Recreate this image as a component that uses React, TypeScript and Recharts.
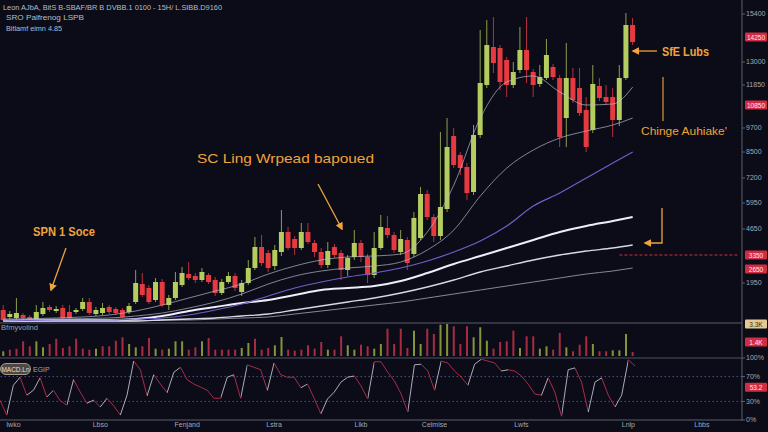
import React from 'react'
import { ComposedChart, BarChart, LineChart, Bar, Line, XAxis, YAxis, ReferenceLine, Cell } from 'recharts'

// candles
const OPEN = [
  600, 250, 200, 350, 250, 150, 400, 750, 550, 700,
  500, 500, 650, 1000, 400, 450, 750, 650, 600, 500,
  1000, 1900, 1700, 1100, 2000, 850, 1200, 1850, 2400, 2300,
  2100, 2350, 2100, 1450, 2000, 2300, 1500, 1950, 2700, 3750,
  3450, 2800, 3500, 4500, 4150, 3700, 4500, 3950, 3500, 2850,
  3750, 3450, 2600, 3250, 3950, 3250, 2350, 3700, 4700, 4350,
  3500, 4100, 3400, 4200, 6400, 5250, 4300, 5650, 9300, 8350,
  7750, 6500, 9350, 11850, 13750, 13700, 13100, 11850, 12600, 13600,
  12500, 11900, 12200, 12750, 12200, 10200, 12200, 11700, 10600, 9600,
  11800, 11250, 11250, 10100, 12200, 14850,
]
const HIGH = [
  850, 550, 1200, 450, 350, 850, 1000, 850, 800, 850,
  850, 700, 1200, 1200, 750, 950, 850, 750, 700, 950,
  2600, 2450, 1850, 2200, 2150, 1350, 2500, 2750, 3000, 2450,
  2700, 2450, 2250, 2150, 2500, 2450, 2100, 3100, 4250, 4350,
  3600, 3850, 5600, 4750, 4300, 4950, 4950, 4100, 3700, 4000,
  3900, 3600, 3350, 4600, 4100, 3400, 4500, 5350, 5300, 4500,
  4600, 4250, 5500, 6750, 6600, 5400, 9500, 10200, 9700, 8500,
  7950, 9850, 14600, 15100, 15250, 13850, 13250, 13000, 14750, 15250,
  12650, 12850, 14150, 12900, 12350, 13950, 12700, 12700, 11250, 12850,
  12200, 11850, 11700, 12850, 15450, 15200,
]
const LOW = [
  50, 150, 150, 100, 100, 100, 300, 500, 450, 150,
  150, 400, 550, 350, 300, 350, 400, 350, 200, 400,
  900, 1250, 900, 1000, 750, 600, 1100, 1750, 2100, 1950,
  2000, 1900, 1300, 1350, 1900, 1550, 1300, 1850, 2600, 2800,
  2500, 2600, 3300, 3600, 3350, 3600, 3900, 3250, 2700, 2700,
  3200, 2100, 2300, 3100, 3000, 1950, 2200, 3600, 4200, 3450,
  3350, 2600, 3250, 4100, 5100, 4000, 4100, 5500, 7700, 7350,
  6100, 6350, 9200, 11700, 12450, 11600, 11250, 11700, 12450, 11950,
  11250, 11750, 12100, 12100, 8750, 8750, 10950, 10300, 8500, 9450,
  11050, 10850, 9250, 9800, 12100, 13850,
]
const CLOSE = [
  100, 400, 450, 200, 150, 500, 700, 600, 650, 200,
  200, 600, 1000, 450, 600, 700, 500, 450, 250, 800,
  1950, 1350, 1000, 2000, 850, 1200, 2000, 2450, 2200, 2100,
  2500, 2000, 1450, 2000, 2300, 1700, 1950, 2700, 3750, 2950,
  2700, 3600, 4500, 3700, 3700, 4500, 4000, 3500, 2850, 3550,
  3350, 2600, 3200, 3950, 3250, 2350, 3700, 4750, 4350, 3600,
  4150, 2950, 5200, 6400, 5250, 4300, 5750, 8750, 7850, 7700,
  6450, 9350, 11950, 13850, 12950, 12000, 11850, 12500, 13600, 12600,
  11850, 12250, 13350, 12250, 9250, 12200, 11100, 10450, 8750, 11900,
  11200, 11000, 10100, 12200, 14850, 14000,
]

const VOLUME = [
  470, 630, 730, 1470, 970, 1470, 870, 1200, 1730, 800,
  970, 1730, 730, 630, 730, 970, 970, 1530, 1870, 1200,
  870, 970, 1800, 730, 630, 730, 1470, 1470, 630, 870,
  1470, 1800, 630, 630, 630, 630, 800, 1300, 1730, 630,
  800, 1070, 1900, 630, 530, 630, 1070, 730, 1400, 630,
  630, 1970, 1070, 630, 1130, 970, 730, 1200, 2730, 1200,
  2730, 800, 2530, 1200, 2730, 2200, 3130, 3200, 2970, 1200,
  2970, 1870, 2870, 1530, 730, 1400, 1470, 2530, 800, 1970,
  1970, 730, 970, 630, 2300, 870, 470, 1130, 1970, 1200,
  470, 470, 570, 570, 2200, 400,
]
const VOL_UP = [
  1, 0, 0, 0, 0, 1, 1, 0, 0, 0,
  0, 0, 0, 0, 1, 0, 0, 0, 0, 1,
  1, 0, 0, 1, 0, 1, 1, 1, 0, 0,
  1, 0, 0, 0, 0, 0, 1, 1, 0, 0,
  0, 1, 1, 0, 0, 0, 0, 0, 0, 1,
  0, 0, 1, 1, 0, 0, 1, 1, 0, 0,
  0, 0, 1, 1, 0, 0, 1, 1, 0, 0,
  0, 1, 1, 1, 0, 0, 0, 0, 1, 0,
  0, 1, 1, 0, 0, 1, 0, 0, 0, 1,
  0, 0, 1, 1, 1, 0,
]

const OSC = [
  32, 8, 56, 69, 40, 48, 68, 37, 48, 31,
  24, 65, 45, 27, 32, 21, 35, 23, 8, 40,
  95, 81, 39, 73, 58, 44, 77, 85, 65, 58,
  53, 48, 35, 35, 69, 73, 35, 89, 85, 81,
  48, 92, 73, 69, 69, 52, 58, 35, 10, 34,
  45, 61, 69, 71, 55, 34, 94, 94, 77, 63,
  42, 13, 89, 90, 79, 48, 95, 92, 79, 69,
  56, 90, 98, 95, 92, 79, 81, 79, 71, 58,
  42, 40, 68, 45, 6, 81, 84, 61, 13, 61,
  68, 40, 21, 40, 97, 87,
]

// moving averages, read at these candle positions
const MA_AT = [0, 8, 16, 20, 24, 28, 32, 36, 40, 44, 48, 52, 56, 60, 64, 68, 72, 76, 80, 84, 88, 92, 95]
const MA1 = [150, 200, 350, 550, 850, 1200, 1550, 1900, 2400, 2800, 3100, 3250, 3300, 3400, 4500, 6850, 10200, 12000, 12300, 11500, 10850, 10900, 11750]
const MA2 = [100, 150, 200, 300, 450, 700, 1000, 1400, 1900, 2300, 2550, 2700, 2800, 3000, 3600, 4600, 6300, 7700, 8600, 9200, 9550, 9850, 10200]
const MA3 = [50, 100, 100, 150, 200, 350, 600, 900, 1300, 1700, 2000, 2250, 2450, 2700, 3050, 3500, 4050, 4800, 5800, 6450, 7200, 7950, 8500]
const MA4 = [50, 100, 100, 150, 300, 550, 750, 950, 1100, 1350, 1600, 1700, 1800, 2050, 2450, 2900, 3300, 3700, 4100, 4500, 4800, 5050, 5250]
const MA5 = [50, 50, 50, 50, 100, 150, 200, 300, 400, 600, 800, 1000, 1200, 1450, 1750, 2100, 2500, 2800, 3100, 3350, 3550, 3700, 3850]
const MA6 = [50, 50, 50, 50, 100, 100, 150, 200, 250, 400, 550, 700, 850, 1000, 1200, 1400, 1600, 1800, 2000, 2200, 2400, 2550, 2700]

const SLOTS = 112
const PRICE_TICKS = [15400, 13000, 11850, 9700, 8500, 7200, 5950, 4650, 1950]
const X_TICKS = [2, 15, 28, 41, 54, 65, 78, 94, 105]
const X_LABELS = ['Iwko', 'Lbso', 'Fenjand', 'Lstra', 'Llkb', 'Celmise', 'Lwfs', 'Lnlp', 'Lbbs']

const FONT = "'Liberation Sans', Arial, sans-serif"
const ORANGE = '#f2a33a'
const GREEN = '#b4cd5e'
const RED = '#e43a40'
const AXIS = '#5c606c'
const LABEL = '#a4a8b4'

const rows = Array.from({ length: SLOTS }, (_, i) => {
  const has = i < OPEN.length
  const k = MA_AT.indexOf(i)
  return {
    i,
    open: has ? OPEN[i] : null,
    high: has ? HIGH[i] : null,
    low: has ? LOW[i] : null,
    close: has ? CLOSE[i] : null,
    range: has ? [LOW[i], HIGH[i]] : null,
    vol: has ? VOLUME[i] : null,
    up: has ? VOL_UP[i] : 0,
    osc: has ? OSC[i] : null,
    ma1: k >= 0 ? MA1[k] : null,
    ma2: k >= 0 ? MA2[k] : null,
    ma3: k >= 0 ? MA3[k] : null,
    ma4: k >= 0 ? MA4[k] : null,
    ma5: k >= 0 ? MA5[k] : null,
    ma6: k >= 0 ? MA6[k] : null,
  }
})

function Candle(props: any) {
  const { x, y, width, height, payload } = props
  if (!payload || payload.open == null) return null
  const top = Math.min(y, y + height)
  const bot = Math.max(y, y + height)
  const span = payload.high - payload.low
  const k = span > 0 ? (bot - top) / span : 0
  const o = payload.open
  const c = payload.close
  const up = c >= o
  const bTop = top + (payload.high - Math.max(o, c)) * k
  const bBot = top + (payload.high - Math.min(o, c)) * k
  const cx = x + width / 2
  const bw = 5
  const col = up ? GREEN : RED
  return (
    <g>
      <line x1={cx} x2={cx} y1={top} y2={bot} stroke={up ? '#8d9f4c' : '#b83040'} strokeWidth={1} />
      <rect x={cx - bw / 2} y={bTop} width={bw} height={Math.max(1, bBot - bTop)} fill={col} />
    </g>
  )
}

function Tag(props: any) {
  const { viewBox, text, fill = '#d22c44', color = '#ffe8ea', dy = 0 } = props
  if (!viewBox) return null
  const x = viewBox.x + viewBox.width + 3
  const y = viewBox.y + dy
  return (
    <g>
      <rect x={x} y={y - 4.5} width={22} height={9} rx={1} fill={fill} />
      <text x={x + 11} y={y + 2.5} textAnchor="middle" fontSize={6.5} fill={color} fontFamily={FONT}>
        {text}
      </text>
    </g>
  )
}

function oscStops() {
  const n = OSC.length - 1
  const stops: React.ReactElement[] = []
  for (let k = 0; k < n; k++) {
    const col = OSC[k + 1] > OSC[k] ? '#a9abb8' : '#a52c48'
    stops.push(<stop key={'a' + k} offset={k / n} stopColor={col} />)
    stops.push(<stop key={'b' + k} offset={(k + 1) / n} stopColor={col} />)
  }
  return stops
}

const tickStyle = { fontSize: 7, fill: LABEL, fontFamily: FONT }

export default function App() {
  return (
    <div style={{ position: 'relative', width: 768, height: 432, background: '#0b0c17', overflow: 'hidden', fontFamily: FONT }}>
      <style>{'body{margin:0;background:#0b0c17}'}</style>

      <div style={{ position: 'absolute', left: 0, top: 0 }}>
        <ComposedChart width={768} height={323} data={rows} margin={{ top: 0, right: 0, left: 0, bottom: 0 }}>
          <XAxis dataKey="i" type="category" hide />
          <YAxis
            orientation="right"
            width={26}
            domain={[-50, 16100]}
            ticks={PRICE_TICKS}
            interval={0}
            tick={tickStyle}
            tickSize={3}
            tickMargin={1}
            axisLine={false}
            tickLine={{ stroke: AXIS }}
          />
          <Line dataKey="ma6" type="monotone" stroke="#868896" strokeWidth={1} dot={false} activeDot={false} connectNulls isAnimationActive={false} />
          <Line dataKey="ma5" type="monotone" stroke="#d6d8e6" strokeWidth={1.3} dot={false} activeDot={false} connectNulls isAnimationActive={false} />
          <Line dataKey="ma4" type="monotone" stroke="#eeeefa" strokeWidth={2} dot={false} activeDot={false} connectNulls isAnimationActive={false} />
          <Line dataKey="ma3" type="monotone" stroke="#6f5fc8" strokeWidth={1.2} dot={false} activeDot={false} connectNulls isAnimationActive={false} />
          <Line dataKey="ma2" type="monotone" stroke="#aeb2c6" strokeWidth={0.9} strokeOpacity={0.8} dot={false} activeDot={false} connectNulls isAnimationActive={false} />
          <Line dataKey="ma1" type="monotone" stroke="#babed0" strokeWidth={0.9} strokeOpacity={0.75} dot={false} activeDot={false} connectNulls isAnimationActive={false} />
          <Bar dataKey="range" shape={<Candle />} isAnimationActive={false} />
          <ReferenceLine
            segment={[{ x: 93, y: 3350 }, { x: 111, y: 3350 }]}
            stroke="#d0303a"
            strokeDasharray="3 2"
          />
          <ReferenceLine y={14250} stroke="none" label={<Tag text="14250" />} />
          <ReferenceLine y={10850} stroke="none" label={<Tag text="10850" />} />
          <ReferenceLine y={3350} stroke="none" label={<Tag text="3350" />} />
          <ReferenceLine y={2650} stroke="none" label={<Tag text="2650" />} />
        </ComposedChart>
      </div>

      <div style={{ position: 'absolute', left: 0, top: 318 }}>
        <BarChart width={768} height={40} data={rows} margin={{ top: 5, right: 0, left: 0, bottom: 2 }} barCategoryGap="34%">
          <XAxis dataKey="i" type="category" hide />
          <YAxis orientation="right" width={26} domain={[0, 3300]} tick={false} axisLine={false} tickLine={false} />
          <Bar dataKey="vol" isAnimationActive={false}>
            {rows.map((r) => (
              <Cell key={r.i} fill={r.up ? '#869438' : '#a92b42'} />
            ))}
          </Bar>
          <ReferenceLine y={3300} stroke="none" label={<Tag text="3.3K" fill="#e6c992" color="#3a2c18" dy={1} />} />
          <ReferenceLine y={1400} stroke="none" label={<Tag text="1.4K" />} />
        </BarChart>
      </div>

      <div style={{ position: 'absolute', left: 0, top: 353 }}>
        <LineChart width={768} height={79} data={rows} margin={{ top: 5, right: 0, left: 0, bottom: 0 }}>
          <defs>
            <linearGradient id="oscGrad" x1="0" y1="0" x2="1" y2="0">
              {oscStops()}
            </linearGradient>
          </defs>
          <XAxis
            dataKey="i"
            type="category"
            ticks={X_TICKS}
            interval={0}
            height={12}
            tickFormatter={(v) => X_LABELS[X_TICKS.indexOf(v)] ?? ''}
            tick={tickStyle}
            tickSize={1}
            tickMargin={1}
            tickLine={false}
            axisLine={{ stroke: AXIS }}
          />
          <YAxis
            orientation="right"
            width={26}
            domain={[0, 100]}
            ticks={[100, 70, 30, 0]}
            interval={0}
            tickFormatter={(v) => v + '%'}
            tick={tickStyle}
            tickSize={3}
            tickMargin={1}
            axisLine={false}
            tickLine={{ stroke: AXIS }}
          />
          <ReferenceLine y={70} stroke="#4a5688" strokeDasharray="1.5 2.5" />
          <ReferenceLine y={30} stroke="#4a5688" strokeDasharray="1.5 2.5" />
          <Line dataKey="osc" type="linear" stroke="url(#oscGrad)" strokeWidth={1} dot={false} activeDot={false} isAnimationActive={false} />
          <ReferenceLine y={53} stroke="none" label={<Tag text="53.2" />} />
        </LineChart>
      </div>

      <svg width={768} height={432} style={{ position: 'absolute', left: 0, top: 0, pointerEvents: 'none' }}>
        <defs>
          <marker id="arr" viewBox="0 0 10 10" refX="8" refY="5" markerWidth="6" markerHeight="6" orient="auto-start-reverse">
            <path d="M0,0 L10,5 L0,10 z" fill={ORANGE} />
          </marker>
        </defs>
        <line x1={742} y1={0} x2={742} y2={421} stroke={AXIS} />
        <line x1={0} y1={323} x2={742} y2={323} stroke="#5a5e6a" />
        <line x1={0} y1={358} x2={742} y2={358} stroke="#4e525e" />

        <g fontFamily={FONT} fill="#b9bdc8">
          <text x={3} y={10} fontSize={8} textLength={219} lengthAdjust="spacingAndGlyphs">
            Leon AJbA, BitS B-SBAF/BR B DVBB.1 0100 - 15H/ L.SIBB.D9160
          </text>
          <text x={6} y={20} fontSize={8} textLength={78} lengthAdjust="spacingAndGlyphs">SRO Palfrenog LSPB</text>
          <text x={6} y={31} fontSize={8} textLength={56} lengthAdjust="spacingAndGlyphs">Bitlamf eimn 4.85</text>
        </g>

        <text x={1} y={330} fontSize={7} fill="#9aa0aa" fontFamily={FONT} textLength={37} lengthAdjust="spacingAndGlyphs">Bfmyvolind</text>
        <rect x={0.5} y={363.5} width={30} height={11} rx={5.5} fill="#4e4844" stroke="#c8b8a0" strokeWidth={0.8} />
        <text x={15.5} y={371.5} fontSize={6.5} textAnchor="middle" fill="#eadfce" fontFamily={FONT}>MACD.Ln</text>
        <text x={33} y={372} fontSize={7} fill="#a0a4b0" fontFamily={FONT}>EGIP</text>

        <g fontFamily={FONT} fill={ORANGE}>
          <text x={33} y={236} fontSize={12} fontWeight="bold" textLength={62} lengthAdjust="spacingAndGlyphs">SPN 1 Soce</text>
          <text x={197} y={163} fontSize={13} textLength={177} lengthAdjust="spacingAndGlyphs">SC Ling Wrpead bapoued</text>
          <text x={662} y={55.5} fontSize={12} fontWeight="bold" textLength={47} lengthAdjust="spacingAndGlyphs">SfE Lubs</text>
          <text x={641} y={134.5} fontSize={10.5} textLength={86} lengthAdjust="spacingAndGlyphs">Chinge Auhiake&apos;</text>
        </g>
        <g stroke={ORANGE} strokeWidth={1.3} fill="none">
          <line x1={66} y1={248} x2={51} y2={290} markerEnd="url(#arr)" />
          <line x1={318} y1={184} x2={342} y2={229} markerEnd="url(#arr)" />
          <line x1={657} y1={51} x2={633} y2={51} markerEnd="url(#arr)" />
          <line x1={663} y1={77} x2={663} y2={121} strokeWidth={1.1} />
          <polyline points="662,208 662,243 645,243" markerEnd="url(#arr)" />
        </g>
      </svg>
    </div>
  )
}
